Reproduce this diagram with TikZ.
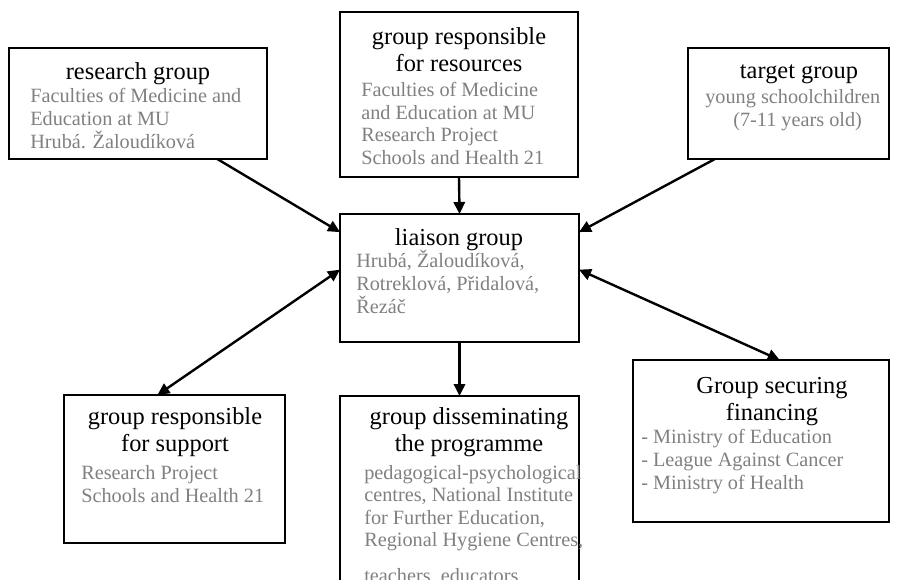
\documentclass[tikz,border=0pt]{standalone}
\usepackage{fontspec}
\setmainfont{Liberation Serif}
\usepackage{tikz}
\usetikzlibrary{arrows.meta, positioning}
\definecolor{bodygray}{gray}{0.5}
\newcommand{\ttlfont}{\fontsize{18.3pt}{20pt}\selectfont}
\newcommand{\bodyfont}{\fontsize{15.2pt}{16.9pt}\selectfont}

\begin{document}
\begin{tikzpicture}[x=0.75pt, y=-0.75pt,
    grp/.style={draw, line width=0.8pt, inner sep=0pt, outer sep=0pt},
    ttl/.style={font=\ttlfont, align=center, anchor=base, inner sep=0pt},
    txt/.style={font=\bodyfont, text=bodygray, align=left, anchor=base west, inner sep=0pt},
    link/.style={line width=1.8pt, -{Triangle[length=9pt, width=8.5pt]}},
    twoway/.style={line width=1.8pt, {Triangle[length=9pt, width=8.5pt]}-{Triangle[length=9pt, width=8.5pt]}}]
      \useasboundingbox (0,0) rectangle (902,579);
      \clip (0,0) rectangle (902,579);

      \node[grp, minimum width=193.5pt, minimum height=83.25pt] (Research) at (138,103.5) {};
      \node[ttl] (ResearchT) at (138,79) {research group};
      \node[txt] (ResearchB) at (30,148) {Faculties of Medicine and\\Education at MU\\Hrubá. Žaloudíková};

      \node[grp, minimum width=178.5pt, minimum height=123.75pt] (Resources) at (459,94.5) {};
      \node[ttl] (ResourcesT) at (459,71) {group responsible\\for resources};
      \node[txt] (ResourcesB) at (361,164.5) {Faculties of Medicine\\and Education at MU\\Research Project\\Schools and Health 21};

      \node[grp, minimum width=150.75pt, minimum height=83.25pt] (Target) at (788.5,103.5) {};
      \node[ttl] (TargetT) at (799,78) {target group};
      \node[txt] (TargetB) at (705,126) {young schoolchildren\\\hspace*{21pt}(7-11 years old)};

      \node[grp, minimum width=179.25pt, minimum height=96pt] (Liaison) at (459.5,278) {};
      \node[ttl] (LiaisonT) at (459,245) {liaison group};
      \node[txt] (LiaisonB) at (356,313) {Hrubá, Žaloudíková,\\Rotreklová, Přidalová,\\Řezáč};

      \node[grp, minimum width=165.75pt, minimum height=111pt] (Support) at (174.5,469) {};
      \node[ttl] (SupportT) at (175,451) {group responsible\\for support};
      \node[txt] (SupportB) at (81,502) {Research Project\\Schools and Health 21};

      \node[grp, minimum width=179.25pt, minimum height=160.5pt] (Dissem) at (459.5,503) {};
      \node[ttl] (DissemT) at (469,451) {group disseminating\\the programme};
      \node[txt] (DissemB) at (364,582.5) {pedagogical-psychological\\centres, National Institute\\for Further Education,\\Regional Hygiene Centres,\\[10pt]teachers, educators};

      \node[grp, minimum width=192pt, minimum height=121.5pt] (Financing) at (761,441) {};
      \node[ttl] (FinancingT) at (772,420) {Group securing\\financing};
      \node[txt] (FinancingB) at (641,489) {- Ministry of Education\\- League Against Cancer\\- Ministry of Health};

      \draw[link] (Research.-35) -- (Liaison.159);
      \draw[link] (Resources.south) -- (Liaison.north);
      \draw[link] (Target.-143) -- (Liaison.21);
      \draw[link] (Liaison.south) -- (Dissem.north);
      \draw[twoway] (Liaison.176) -- (Support.103);
      \draw[twoway] (Liaison.4) -- (Financing.77);
\end{tikzpicture}
\end{document}
